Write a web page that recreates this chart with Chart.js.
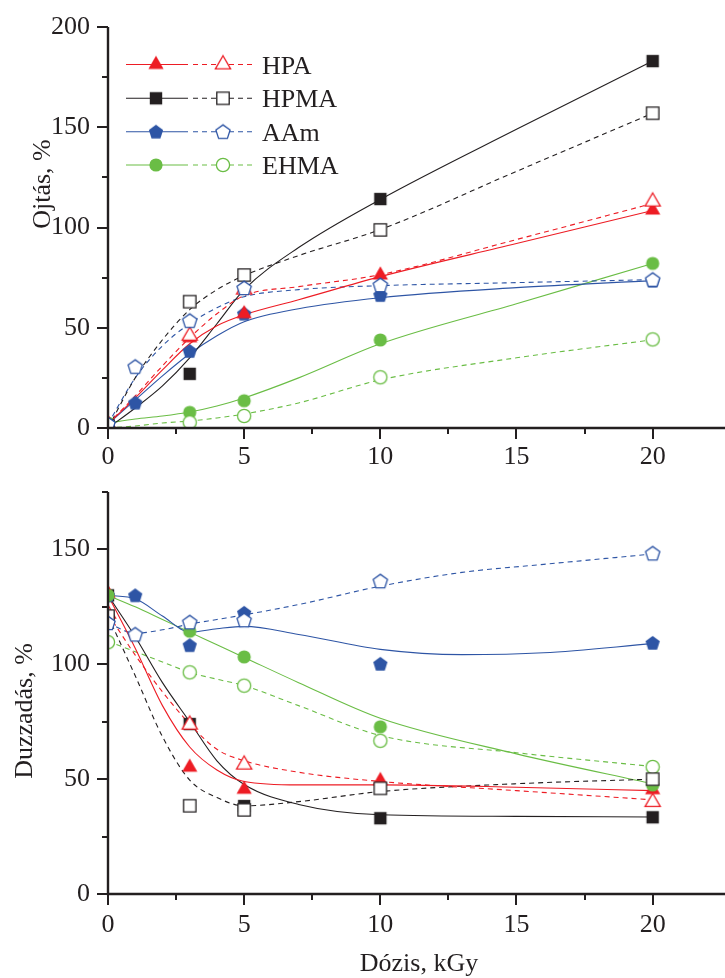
<!DOCTYPE html>
<html><head><meta charset="utf-8">
<script src="https://cdn.jsdelivr.net/npm/chart.js@4.4.0/dist/chart.umd.min.js"></script>
<style>
html,body{margin:0;padding:0;background:#fff;width:725px;height:978px;overflow:hidden;}
canvas{position:absolute;left:0;}
#c1{top:0;width:725px;height:480px;}
#c2{top:480px;width:725px;height:498px;}
</style></head><body>
<canvas id="c1" width="725" height="480"></canvas>
<canvas id="c2" width="725" height="498"></canvas>
<script>
// ---------- data ----------
const doses = [0, 1, 3, 5, 10, 20];
const fitDoses = [0, 1, 2, 3, 4, 5, 7, 10, 15, 20];
const fitDosesAAmSwell = [0, 1, 2, 3, 4, 5, 7, 10, 13, 16, 20];

const xMajorTicks = [0, 5, 10, 15, 20];
const graftMajorTicks = [0, 50, 100, 150, 200];
const swellMajorTicks = [0, 50, 100, 150];

const seriesNames = ['HPA', 'HPMA', 'AAm', 'EHMA'];

// Grafting (Ojtás, %) – filled / open markers
const hpaFilledGraft  = [2, null, 45, 57, 76.3, 108.7];
const hpaOpenGraft    = [2, null, 46, 69, null, 112.9];
const hpmaFilledGraft = [1, null, 27, null, 114.2, 183];
const hpmaOpenGraft   = [1, null, 63, 76.3, 98.8, 157];
const aamFilledGraft  = [2, 12.6, 38.4, 57, 66.3, 73.5];
const aamOpenGraft    = [2, 30.6, 53.5, 69.8, 71.3, 74];
const ehmaFilledGraft = [2.5, null, 7.8, 13.6, 43.9, 82.1];
const ehmaOpenGraft   = [0.5, null, 2.8, 6, 25.3, 44.2];

// Grafting fitted curves
const hpaSolidGraftFit  = [2, 15, 29, 42, 51, 56.5, 64, 75.5, 92, 108.5];
const hpaDashGraftFit   = [2, 16, 31, 45, 57, 66, 70.5, 76.5, 94, 112];
const hpmaSolidGraftFit = [0, 10, 21, 35, 52, 69, 90, 114, 149, 183];
const hpmaDashGraftFit  = [0, 25, 44, 59, 69, 76, 86, 99, 128, 157];
const aamSolidGraftFit  = [2, 14, 26, 37, 46, 53, 59.5, 65, 70, 73.5];
const aamDashGraftFit   = [2, 25, 41, 52, 60, 65.5, 69, 71, 72.5, 74];
const ehmaSolidGraftFit = [2.5, 4.5, 6, 8, 11, 15, 25, 42, 62, 82];
const ehmaDashGraftFit  = [0, 1, 2.5, 3.5, 5, 7, 12.5, 24, 35, 44];

// Swelling (Duzzadás, %) – filled / open markers
const hpaFilledSwell  = [131, null, 55.2, 45.6, 49.4, 45.4];
const hpaOpenSwell    = [122, null, 73.7, 56.3, null, 40];
const hpmaFilledSwell = [130, null, 74, 38.3, 33, 33.4];
const hpmaOpenSwell   = [121, null, 38.4, 36.6, 46, 50];
const aamFilledSwell  = [130, 130, 108.3, 122.4, 100.2, 109.3];
const aamOpenSwell    = [118, 113, 118.3, 119.2, 136.2, 148.3];
const ehmaFilledSwell = [130, null, 114.4, 103.2, 72.8, 47.5];
const ehmaOpenSwell   = [109.6, null, 96.5, 90.7, 66.7, 55.3];

// Swelling fitted curves
const hpaSolidSwellFit  = [130, 107, 82, 64, 54, 49, 47.5, 47.5, 46.5, 45];
const hpaDashSwellFit   = [122, 104, 88, 74, 63, 58, 53, 49, 45, 41];
const hpmaSolidSwellFit = [130, 112, 92, 75, 58, 47.7, 39, 34.5, 33.8, 33.5];
const hpmaDashSwellFit  = [121, 95, 68.5, 49.6, 42, 38.4, 40.2, 44.6, 48, 50];
const aamSolidSwellFit  = [130, 128.5, 121, 114, 115.5, 116.5, 113, 106.5, 104.2, 105, 109];
const aamDashSwellFit   = [118, 113.5, 115, 117.5, 119.5, 121.5, 126, 134, 140, 143.5, 148];
const ehmaSolidSwellFit = [130, 125, 119.5, 114, 108.5, 103, 92, 76.5, 61, 48];
const ehmaDashSwellFit  = [110, 105.5, 101, 96.5, 93.5, 90.7, 82, 69, 61.5, 55.5];

// ---------- styles ----------
const INK = '#231f20';
const RED = '#ed1c24', BLACK = '#231f20', BLUE = '#2e55a5', GREEN = '#6abd45';
const colors = [RED, BLACK, BLUE, GREEN];
const shapes = ['tri', 'sq', 'pent', 'circ'];
const DASH = [5, 4];
const FONT = '"Liberation Serif", "Times New Roman", serif';

function marker(shape, color, filled) {
  const s = 24, c = document.createElement('canvas');
  c.width = s; c.height = s;
  const g = c.getContext('2d');
  g.translate(s / 2, s / 2);
  g.beginPath();
  if (shape === 'tri') {
    const r = 8.8;
    g.moveTo(0, -r); g.lineTo(r * 0.866, r * 0.5); g.lineTo(-r * 0.866, r * 0.5); g.closePath();
  } else if (shape === 'sq') {
    const h = 6.2; g.rect(-h, -h, 2 * h, 2 * h);
  } else if (shape === 'pent') {
    const r = 7.5;
    for (let i = 0; i < 5; i++) {
      const a = -Math.PI / 2 + i * 2 * Math.PI / 5;
      const px = r * Math.cos(a), py = r * Math.sin(a) + 0.6;
      if (i === 0) g.moveTo(px, py); else g.lineTo(px, py);
    }
    g.closePath();
  } else {
    g.arc(0, 0, 6.6, 0, Math.PI * 2);
  }
  if (filled) { g.fillStyle = color; g.fill(); }
  else { g.fillStyle = '#fff'; g.fill(); g.strokeStyle = color; g.lineWidth = 1.3; g.stroke(); }
  return c;
}
const filledMarkers = shapes.map((s, i) => marker(s, colors[i], true));
const openMarkers = shapes.map((s, i) => marker(s, colors[i], false));

function pts(xs, ys) { return xs.map((x, i) => ({ x: x, y: ys[i] })); }

function markerSet(vals, idx, filled) {
  return {
    data: pts(doses, vals), showLine: false,
    pointStyle: filled ? filledMarkers[idx] : openMarkers[idx],
    pointRadius: 6, pointHoverRadius: 6,
    borderColor: colors[idx], backgroundColor: colors[idx]
  };
}
function fitSet(xs, vals, idx, dashed) {
  return {
    data: pts(xs, vals), showLine: true, pointRadius: 0, pointHoverRadius: 0,
    borderColor: colors[idx], borderWidth: 1.1, borderDash: dashed ? DASH : [],
    cubicInterpolationMode: 'monotone', fill: false
  };
}

// ---------- plugin: axes, ticks, titles, legend ----------
const sciPlugin = {
  id: 'sci',
  afterDatasetsDraw(chart, args, o) {
    const ctx = chart.ctx, a = chart.chartArea, xs = chart.scales.x, ys = chart.scales.y;
    ctx.save();
    ctx.strokeStyle = INK; ctx.lineCap = 'butt';
    ctx.lineWidth = 2.4;
    ctx.beginPath();
    ctx.moveTo(a.left, a.top); ctx.lineTo(a.left, a.bottom + 1.2);
    ctx.moveTo(a.left - 1.2, a.bottom); ctx.lineTo(chart.width, a.bottom);
    ctx.stroke();
    ctx.lineWidth = 2;
    ctx.beginPath();
    ys.ticks.forEach(t => {
      const major = o.yMajor.includes(t.value);
      const p = Math.round(ys.getPixelForValue(t.value));
      ctx.moveTo(a.left - (major ? 11 : 6), p); ctx.lineTo(a.left, p);
    });
    xs.ticks.forEach(t => {
      const major = xMajorTicks.includes(t.value);
      const p = Math.round(xs.getPixelForValue(t.value));
      ctx.moveTo(p, a.bottom); ctx.lineTo(p, a.bottom + (major ? 11 : 6));
    });
    ctx.stroke();
    ctx.restore();
  },
  afterDraw(chart, args, o) {
    const ctx = chart.ctx;
    ctx.save();
    ctx.fillStyle = INK;
    ctx.font = '26px ' + FONT;
    ctx.textAlign = 'center'; ctx.textBaseline = 'alphabetic';
    ctx.save();
    ctx.translate(o.yTitleX, o.yTitleY);
    ctx.rotate(-Math.PI / 2);
    ctx.fillText(o.yTitle, 0, 0);
    ctx.restore();
    if (o.xTitle) ctx.fillText(o.xTitle, o.xTitleX, o.xTitleY);
    if (o.legend) {
      const rows = [64.5, 98.3, 131.7, 165];
      ctx.textAlign = 'left';
      seriesNames.forEach((name, i) => {
        const yy = rows[i];
        ctx.strokeStyle = colors[i]; ctx.lineWidth = 1.1;
        ctx.setLineDash([]);
        ctx.beginPath(); ctx.moveTo(126, yy); ctx.lineTo(188, yy); ctx.stroke();
        ctx.setLineDash(DASH);
        ctx.beginPath(); ctx.moveTo(193, yy); ctx.lineTo(256, yy); ctx.stroke();
        ctx.setLineDash([]);
        const f = filledMarkers[i], op = openMarkers[i];
        ctx.drawImage(f, 156 - f.width / 2, yy - f.height / 2);
        ctx.drawImage(op, 223 - op.width / 2, yy - op.height / 2);
        ctx.fillStyle = INK;
        ctx.fillText(name, 262, yy + 9);
      });
    }
    ctx.restore();
  }
};

function baseOptions(yMax, yMajor, padTop, plotBottom, canvasH, xPad, pluginOpts) {
  return {
    responsive: false, animation: false, events: [],
    layout: { padding: { top: padTop, left: 0, right: 0, bottom: 0 } },
    plugins: { legend: { display: false }, tooltip: { enabled: false }, sci: pluginOpts },
    scales: {
      x: {
        type: 'linear', min: 0, max: 22.4,
        afterFit: s => { s.height = canvasH - plotBottom; s.paddingLeft = 0; s.paddingRight = 0; },
        border: { display: false },
        grid: { display: true, drawOnChartArea: false, drawTicks: true, tickLength: 11, color: 'rgba(0,0,0,0)' },
        ticks: {
          stepSize: 2.5, includeBounds: false, autoSkip: false, maxRotation: 0, padding: xPad,
          color: INK, font: { family: FONT, size: 26 },
          callback: v => xMajorTicks.includes(v) ? String(v) : ''
        }
      },
      y: {
        type: 'linear', min: 0, max: yMax,
        afterFit: s => { s.width = 108; s.paddingTop = 0; s.paddingBottom = 0; },
        border: { display: false },
        grid: { display: true, drawOnChartArea: false, drawTicks: true, tickLength: 11, color: 'rgba(0,0,0,0)' },
        ticks: {
          stepSize: 25, includeBounds: false, autoSkip: false, padding: 7,
          color: INK, font: { family: FONT, size: 26 },
          callback: v => yMajor.includes(v) ? String(v) : ''
        }
      }
    }
  };
}

// marker order: first dataset is drawn on top
const graftDatasets = [
  markerSet(aamOpenGraft, 2, false),
  markerSet(hpmaOpenGraft, 1, false),
  markerSet(hpaOpenGraft, 0, false),
  markerSet(ehmaOpenGraft, 3, false),
  markerSet(ehmaFilledGraft, 3, true),
  markerSet(hpaFilledGraft, 0, true),
  markerSet(aamFilledGraft, 2, true),
  markerSet(hpmaFilledGraft, 1, true),
  fitSet(fitDoses, hpaSolidGraftFit, 0, false),
  fitSet(fitDoses, hpaDashGraftFit, 0, true),
  fitSet(fitDoses, hpmaSolidGraftFit, 1, false),
  fitSet(fitDoses, hpmaDashGraftFit, 1, true),
  fitSet(fitDoses, aamSolidGraftFit, 2, false),
  fitSet(fitDoses, aamDashGraftFit, 2, true),
  fitSet(fitDoses, ehmaSolidGraftFit, 3, false),
  fitSet(fitDoses, ehmaDashGraftFit, 3, true)
];

const swellDatasets = [
  markerSet(aamOpenSwell, 2, false),
  markerSet(hpmaOpenSwell, 1, false),
  markerSet(hpaOpenSwell, 0, false),
  markerSet(ehmaOpenSwell, 3, false),
  markerSet(ehmaFilledSwell, 3, true),
  markerSet(hpaFilledSwell, 0, true),
  markerSet(aamFilledSwell, 2, true),
  markerSet(hpmaFilledSwell, 1, true),
  fitSet(fitDoses, hpaSolidSwellFit, 0, false),
  fitSet(fitDoses, hpaDashSwellFit, 0, true),
  fitSet(fitDoses, hpmaSolidSwellFit, 1, false),
  fitSet(fitDoses, hpmaDashSwellFit, 1, true),
  fitSet(fitDosesAAmSwell, aamSolidSwellFit, 2, false),
  fitSet(fitDosesAAmSwell, aamDashSwellFit, 2, true),
  fitSet(fitDoses, ehmaSolidSwellFit, 3, false),
  fitSet(fitDoses, ehmaDashSwellFit, 3, true)
];

new Chart(document.getElementById('c1'), {
  type: 'scatter',
  data: { datasets: graftDatasets },
  options: baseOptions(200, graftMajorTicks, 27, 428, 480, 3,
    { yMajor: graftMajorTicks, yTitle: 'Ojtás, %', yTitleX: 50, yTitleY: 184, legend: true }),
  plugins: [sciPlugin]
});

new Chart(document.getElementById('c2'), {
  type: 'scatter',
  data: { datasets: swellDatasets },
  options: baseOptions(175, swellMajorTicks, 12, 414, 498, 5,
    { yMajor: swellMajorTicks, yTitle: 'Duzzadás, %', yTitleX: 32, yTitleY: 231,
      xTitle: 'Dózis, kGy', xTitleX: 419, xTitleY: 491, legend: false }),
  plugins: [sciPlugin]
});
</script>
</body></html>
